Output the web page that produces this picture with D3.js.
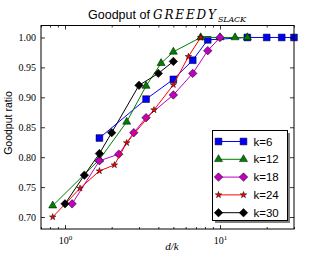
<!DOCTYPE html>
<html>
<head>
<meta charset="utf-8">
<script src="https://cdn.jsdelivr.net/npm/d3@7"></script>
<style>
  body { margin: 0; background: #fff; }
  svg { display: block; }
  .tick-label { font-family: "Liberation Serif", serif; font-size: 10px; fill: #000; }
  .sans { font-family: "Liberation Sans", Arial, sans-serif; fill: #000; }
</style>
</head>
<body>
<svg id="chart" width="327" height="256"></svg>
<script>
// Goodput ratio for each k, x = d/k
const seriesLabels = ['k=6', 'k=12', 'k=18', 'k=24', 'k=30'];
const seriesColors = ['#0000ff', '#008000', '#bf00bf', '#ff0000', '#000000'];

const ratioK6 = [1.667, 3.333, 5, 6.667, 8.333, 15, 20, 25, 30];
const goodK6 = [0.832, 0.897, 0.930, 0.962, 0.996, 1, 1, 1, 1];

const ratioK12 = [0.833, 1.667, 2.5, 3.333, 4.167, 5, 7.5, 10, 12.5, 15];
const goodK12 = [0.719, 0.796, 0.859, 0.919, 0.957, 0.976, 1, 1, 1, 1];

const ratioK18 = [1.111, 1.667, 2.222, 2.778, 3.333, 5, 6.667, 8.333, 10];
const goodK18 = [0.722, 0.794, 0.805, 0.841, 0.866, 0.904, 0.940, 0.978, 1];

const ratioK24 = [0.833, 1.25, 1.667, 2.083, 2.5, 3.75, 5, 6.25, 7.5];
const goodK24 = [0.700, 0.748, 0.777, 0.787, 0.824, 0.879, 0.921, 0.968, 1];

const ratioK30 = [1, 1.333, 1.667, 2, 3, 4, 5];
const goodK30 = [0.722, 0.770, 0.806, 0.841, 0.920, 0.940, 0.960];

const yTicks = [0.70, 0.75, 0.80, 0.85, 0.90, 0.95, 1.00];
const xMajorTicks = [1, 10];
const xMinorTicks = [0.7, 0.8, 0.9, 2, 3, 4, 5, 6, 7, 8, 9, 20, 30];

const allRatios = [ratioK6, ratioK12, ratioK18, ratioK24, ratioK30];
const allGood = [goodK6, goodK12, goodK18, goodK24, goodK30];

const margin = { top: 25.5, right: 33, bottom: 27, left: 41 };
const W = 327, H = 256;
const width = W - margin.left - margin.right;
const height = H - margin.top - margin.bottom;

const svg = d3.select('#chart');
const g = svg.append('g').attr('transform', `translate(${margin.left},${margin.top})`);

const xScale = d3.scaleLog().domain([0.7, 30]).range([0, width]);
const yScale = d3.scaleLinear().domain([0.68, 1.02]).range([height, 0]);

// marker shapes, matplotlib style
const squareSym = d3.symbol().type(d3.symbolSquare).size(46);
const triSym = d3.symbol().type(d3.symbolTriangle).size(28);
const diamondSym = d3.symbol().type(d3.symbolSquare).size(36);
const starSym = d3.symbol().type(d3.symbolStar).size(13);
const markers = [
    { path: squareSym(), rot: 0 },
    { path: triSym(), rot: 0 },
    { path: diamondSym(), rot: 45 },
    { path: starSym(), rot: 0 },
    { path: diamondSym(), rot: 45 }
];

const line = d3.line().x(d => xScale(d[0])).y(d => yScale(d[1]));

// series
for (let i = 0; i < allRatios.length; i++) {
    let pts = allRatios[i].map((r, j) => [r, allGood[i][j]]);
    g.append('path')
        .attr('d', line(pts))
        .attr('fill', 'none')
        .attr('stroke', seriesColors[i])
        .attr('stroke-width', 1);
    g.selectAll(`.mk${i}`)
        .data(pts)
        .enter()
        .append('path')
        .attr('class', `mk${i}`)
        .attr('d', markers[i].path)
        .attr('transform', d => `translate(${xScale(d[0])},${yScale(d[1])}) rotate(${markers[i].rot})`)
        .attr('fill', seriesColors[i])
        .attr('stroke', '#000')
        .attr('stroke-width', 0.5);
}

// axes with inward ticks on all sides
const styleAxis = sel => {
    sel.select('.domain').remove();
    sel.selectAll('line').attr('stroke', '#000').attr('stroke-width', 0.8);
};

g.append('g')
    .call(d3.axisLeft(yScale).tickValues(yTicks).tickSize(-4).tickPadding(5)
        .tickFormat(d3.format('.2f')))
    .call(styleAxis)
    .selectAll('text').attr('class', 'tick-label');

g.append('g')
    .attr('transform', `translate(${width},0)`)
    .call(d3.axisRight(yScale).tickValues(yTicks).tickSize(-4).tickFormat(''))
    .call(styleAxis);

g.append('g')
    .attr('transform', `translate(0,${height})`)
    .call(d3.axisBottom(xScale).tickValues(xMinorTicks).tickSize(-2).tickFormat(''))
    .call(styleAxis);

g.append('g')
    .call(d3.axisTop(xScale).tickValues(xMinorTicks).tickSize(-2).tickFormat(''))
    .call(styleAxis);

g.append('g')
    .call(d3.axisTop(xScale).tickValues(xMajorTicks).tickSize(-4).tickFormat(''))
    .call(styleAxis);

const xMajor = g.append('g')
    .attr('transform', `translate(0,${height})`)
    .call(d3.axisBottom(xScale).tickValues(xMajorTicks).tickSize(-4).tickPadding(6)
        .tickFormat(''))
    .call(styleAxis);

// 10^n labels with superscript
xMajor.selectAll('.tick text')
    .attr('class', 'tick-label')
    .attr('dy', '0.9em')
    .each(function(d) {
        let t = d3.select(this);
        t.append('tspan').text('10');
        t.append('tspan').attr('dy', -4).attr('font-size', 7).text(Math.round(Math.log10(d)));
    });

// frame
g.append('rect')
    .attr('width', width).attr('height', height)
    .attr('fill', 'none').attr('stroke', '#000').attr('stroke-width', 1);

// title
const title = svg.append('text').attr('y', 19);
title.append('tspan').attr('x', 88).attr('class', 'sans').attr('font-size', 12.5).text('Goodput of');
title.append('tspan').attr('x', 153)
    .attr('font-family', '"DejaVu Serif", serif').attr('font-style', 'italic')
    .attr('font-size', 12).attr('textLength', 63).attr('lengthAdjust', 'spacing')
    .text('GREEDY');
title.append('tspan').attr('x', 218).attr('dy', 3)
    .attr('font-family', '"DejaVu Serif", serif').attr('font-style', 'italic')
    .attr('font-size', 8).attr('textLength', 28).attr('lengthAdjust', 'spacing')
    .text('SLACK');

// axis labels
svg.append('text')
    .attr('class', 'sans')
    .attr('font-size', 10.5)
    .attr('text-anchor', 'middle')
    .attr('transform', 'translate(12,123) rotate(-90)')
    .text('Goodput ratio');

svg.append('text')
    .attr('x', 172).attr('y', 250)
    .attr('text-anchor', 'middle')
    .attr('font-family', '"Liberation Serif", serif').attr('font-style', 'italic')
    .attr('font-size', 11)
    .text('d/k');

// legend with shadow
const lg = svg.append('g').attr('transform', 'translate(212.5,130.5)');
const lgW = 75, lgH = 90;
lg.append('rect').attr('x', 2.5).attr('y', 2.5).attr('width', lgW).attr('height', lgH).attr('fill', '#808080');
lg.append('rect').attr('width', lgW).attr('height', lgH)
    .attr('fill', '#fff').attr('stroke', '#000').attr('stroke-width', 1);

seriesLabels.forEach((lab, i) => {
    let yy = 11 + i * 17.8;
    lg.append('line')
        .attr('x1', 6).attr('x2', 31).attr('y1', yy).attr('y2', yy)
        .attr('stroke', seriesColors[i]).attr('stroke-width', 1);
    [6, 31].forEach(xx => {
        lg.append('path')
            .attr('d', markers[i].path)
            .attr('transform', `translate(${xx},${yy}) rotate(${markers[i].rot})`)
            .attr('fill', seriesColors[i])
            .attr('stroke', '#000').attr('stroke-width', 0.5);
    });
    lg.append('text')
        .attr('class', 'sans')
        .attr('x', 41).attr('y', yy + 4)
        .attr('font-size', 11.5)
        .text(lab);
});
</script>
</body>
</html>
